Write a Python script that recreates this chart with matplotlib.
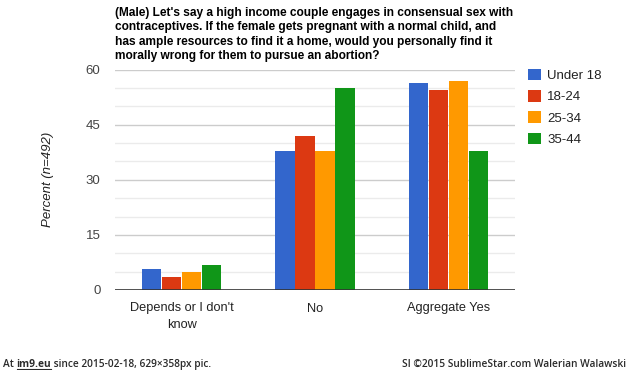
import matplotlib
matplotlib.use("Agg")
import matplotlib.pyplot as plt
import numpy as np

categories = ["Depends or I don't\nknow", "No", "Aggregate Yes"]
series_names = ["Under 18", "18-24", "25-34", "35-44"]
under18 = [5.7, 37.8, 56.3]
age18_24 = [3.5, 41.9, 54.4]
age25_34 = [4.9, 37.8, 56.9]
age35_44 = [6.9, 55.0, 37.8]
series_values = [under18, age18_24, age25_34, age35_44]
colors = ["#3366cc", "#dc3912", "#ff9900", "#109618"]
yticks = [0, 15, 30, 45, 60]
title_lines = ["(Male) Let's say a high income couple engages in consensual sex with",
               "contraceptives. If the female gets pregnant with a normal child, and",
               "has ample resources to find it a home, would you personally find it",
               "morally wrong for them to pursue an abortion?"]
footer_left = ["At ", "im9.eu", " since 2015-02-18, 629\u00d7358px pic."]
footer_right = "SI \u00a92015 SublimeStar.com Walerian Walawski"

FONT = "Liberation Sans"
FOOT = "Open Sans"
W, H = 629, 370
fig = plt.figure(figsize=(W / 100, H / 100), dpi=100)
fig.patch.set_facecolor("white")
renderer = fig.canvas.get_renderer()


def width_of(txt, **kw):
    t = fig.text(0, 0, txt, **kw)
    w = t.get_window_extent(renderer).width
    t.remove()
    return w


AX_L, AX_R, AX_T, AX_B = 115, 515, 69.5, 290
ax = fig.add_axes([AX_L / W, 1 - AX_B / H, (AX_R - AX_L) / W, (AX_B - AX_T) / H])
x = np.arange(len(categories))
group_w = 0.6
bw = group_w / len(series_values)
for i, (vals, c, n) in enumerate(zip(series_values, colors, series_names)):
    ax.bar(x - group_w / 2 + bw * (i + 0.5), vals, width=bw * 0.96, color=c,
           label=n, zorder=3, linewidth=0)

ax.set_xlim(-0.5, 2.5)
ax.set_ylim(0, 60)
for v in range(5, 61, 5):
    ax.axhline(v, color="#cccccc" if v % 15 == 0 else "#ebebeb", lw=1, zorder=1)
ax.axhline(0, color="#333333", lw=1.2, zorder=4)
for s in ax.spines.values():
    s.set_visible(False)
ax.set_yticks(yticks)
ax.set_yticklabels([str(t) for t in yticks], fontsize=9.5, color="#444444",
                   family=FONT)
ax.tick_params(axis="y", length=0, pad=10.5)
ax.set_xticks(x)
ax.set_xticklabels(categories, fontsize=9.2, color="#222222",
                   family=FONT, linespacing=1.45)
ax.tick_params(axis="x", length=0, pad=9)
ax.set_ylabel("Percent (n=492)", fontsize=9.5, color="#222222", style="italic",
              family=FONT, labelpad=23)

leg = fig.legend(loc="upper left", bbox_to_anchor=(528 / W, 1 - 68.5 / H),
                 frameon=False, handlelength=1.0, handleheight=1.0,
                 handletextpad=0.45, labelspacing=0.6, borderpad=0,
                 borderaxespad=0, prop={"family": FONT, "size": 9.5})
for t in leg.get_texts():
    t.set_color("#222222")

# title: size fitted so that line 1 spans the plot width
tfs = 8.5
w1 = width_of(title_lines[0], fontsize=tfs, fontweight="bold", family=FONT)
tfs = tfs * (AX_R - 2 - AX_L) / w1
for k, line in enumerate(title_lines):
    fig.text(AX_L / W, 1 - (13 + 14.4 * k) / H, line, ha="left", va="center",
             fontsize=tfs, fontweight="bold", family=FONT, color="#000000")

# footer
fy = 1 - 364.5 / H
fc = "#2a2a2a"
ffs = 7.5
wr = width_of(footer_right, fontsize=ffs, family=FOOT, fontweight="semibold")
ffs = ffs * 224 / wr
fig.text(626 / W, fy, footer_right, ha="right", va="center", fontsize=ffs,
         family=FOOT, fontweight="semibold", color=fc)
xpos = 3
for k, part in enumerate(footer_left):
    t = fig.text(xpos / W, fy, part, ha="left", va="center", fontsize=ffs,
                 family=FOOT, fontweight="bold" if k == 1 else "semibold",
                 color=fc)
    e = t.get_window_extent(renderer)
    if k == 1:
        fig.add_artist(plt.Line2D([e.x0 / W, e.x1 / W], [1 - 369 / H, 1 - 369 / H],
                                  color=fc, lw=0.8))
    xpos = e.x1

fig.savefig("out.png", dpi=100, facecolor="white")
